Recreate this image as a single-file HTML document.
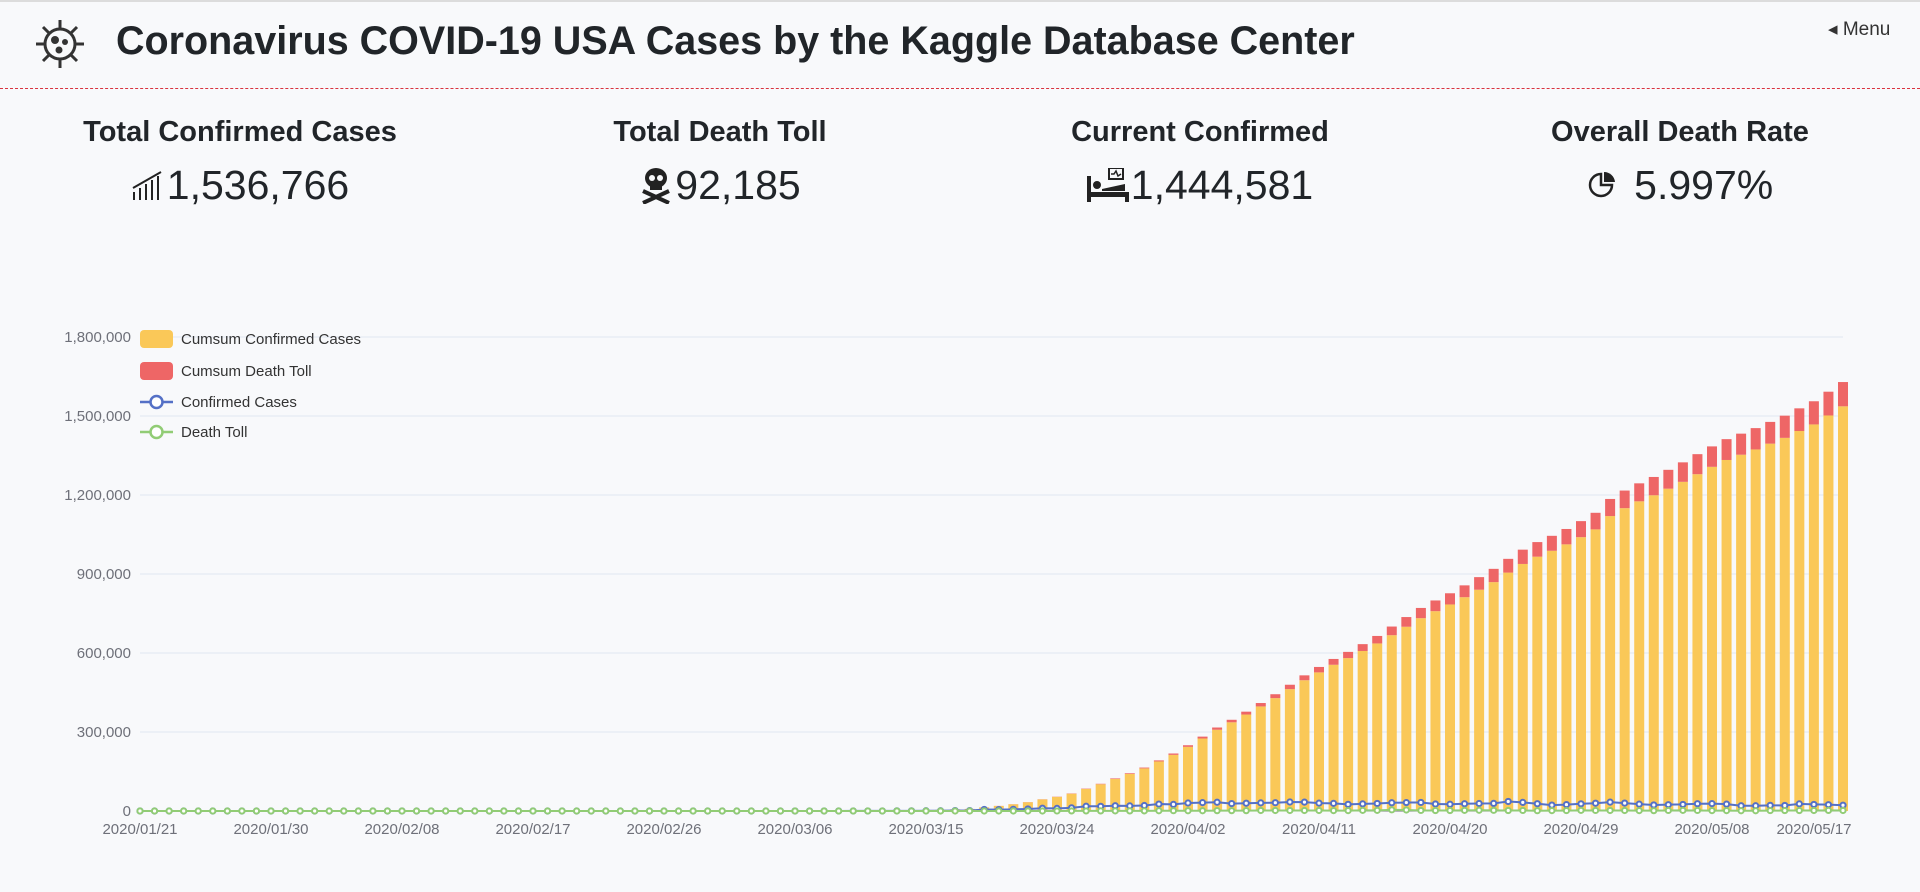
<!DOCTYPE html>
<html><head><meta charset="utf-8">
<style>
html,body{margin:0;padding:0;width:1920px;height:892px;overflow:hidden;background:#f8f9fb;font-family:"Liberation Sans",sans-serif;color:#212529}
#top{position:absolute;left:0;top:0;width:1920px;height:89px;border-top:2px solid #dcdcdc;border-bottom:1px dashed #d9343f;box-sizing:border-box}
#title{position:absolute;left:116px;top:17px;font-size:39.5px;font-weight:bold;white-space:nowrap;letter-spacing:0px}
#menu{position:absolute;left:1828px;top:16px;font-size:19px;color:#333}
.stat{position:absolute;top:112px;width:480px;text-align:center}
.stat .t{font-size:29px;line-height:40px;font-weight:bold}
.stat .v{font-size:41px;line-height:50px;margin-top:8px;display:flex;justify-content:center;align-items:center;gap:2px}
svg text{font-family:"Liberation Sans",sans-serif}
</style></head><body>
<div id="top">
 <svg style="position:absolute;left:34px;top:16px" width="52" height="52" viewBox="0 0 52 52">
  <g stroke="#333" stroke-width="3" fill="none">
   <circle cx="26" cy="26" r="15"/>
   <line x1="26" y1="2" x2="26" y2="11"/><line x1="26" y1="41" x2="26" y2="50"/>
   <line x1="2" y1="26" x2="11" y2="26"/><line x1="41" y1="26" x2="50" y2="26"/>
   <line x1="9" y1="9" x2="15" y2="15"/><line x1="37" y1="37" x2="43" y2="43"/>
   <line x1="43" y1="9" x2="37" y2="15"/><line x1="9" y1="43" x2="15" y2="37"/>
  </g>
  <circle cx="21" cy="22" r="4" fill="#333"/><circle cx="31" cy="24" r="3" fill="#333"/><circle cx="25" cy="32" r="3.5" fill="#333"/>
 </svg>
 <div id="title">Coronavirus COVID-19 USA Cases by the Kaggle Database Center</div>
 <div id="menu">&#9666; Menu</div>
</div>

<div class="stat" style="left:0">
 <div class="t">Total Confirmed Cases</div>
 <div class="v"><svg width="34" height="30" viewBox="0 0 34 30"><g stroke="#222" stroke-width="2"><line x1="3" y1="30" x2="3" y2="22"/><line x1="9" y1="30" x2="9" y2="18"/><line x1="15" y1="30" x2="15" y2="14"/><line x1="21" y1="30" x2="21" y2="10"/><line x1="27" y1="30" x2="27" y2="6"/><polyline points="2,18 30,2" fill="none"/></g></svg><span>1,536,766</span></div>
</div>
<div class="stat" style="left:480px">
 <div class="t">Total Death Toll</div>
 <div class="v"><svg width="34" height="38" viewBox="0 0 34 38"><ellipse cx="17" cy="12" rx="11" ry="10" fill="#222"/><rect x="11" y="18" width="12" height="6" fill="#222"/><circle cx="13" cy="12" r="3" fill="#f8f9fb"/><circle cx="21" cy="12" r="3" fill="#f8f9fb"/><g stroke="#222" stroke-width="4"><line x1="4" y1="25" x2="30" y2="37"/><line x1="30" y1="25" x2="4" y2="37"/></g></svg><span>92,185</span></div>
</div>
<div class="stat" style="left:960px">
 <div class="t">Current Confirmed</div>
 <div class="v"><svg width="42" height="34" viewBox="0 0 42 34"><rect x="0" y="8" width="4" height="26" fill="#222"/><rect x="0" y="24" width="42" height="5" fill="#222"/><rect x="38" y="24" width="4" height="10" fill="#222"/><circle cx="10" cy="17" r="4" fill="#222"/><path d="M15 21 L38 16 L38 23 L15 23Z" fill="#222"/><rect x="22" y="0" width="14" height="11" fill="none" stroke="#222" stroke-width="2"/><polyline points="24,6 27,6 29,3 31,8 34,6" fill="none" stroke="#222" stroke-width="1.5"/></svg><span>1,444,581</span></div>
</div>
<div class="stat" style="left:1440px">
 <div class="t">Overall Death Rate</div>
 <div class="v"><svg width="34" height="30" viewBox="0 0 34 30"><path d="M14 4 A11 11 0 1 0 25 15 L14 15Z" fill="none" stroke="#222" stroke-width="2.5"/><path d="M17 2 A11 11 0 0 1 28 12 L17 12Z" fill="#222"/></svg><span>&nbsp;5.997%</span></div>
</div>

<svg id="chart" style="position:absolute;left:0;top:0" width="1920" height="892"></svg>

<script>
const yTicks = [0,300000,600000,900000,1200000,1500000,1800000];
const cumConfirmed = [
1,1,2,2,5,5,5,5,5,6,7,
8,11,11,11,12,12,12,12,12,13,13,14,14,14,14,14,14,14,14,16,16,16,16,16,16,17,17,25,30,
75,98,118,149,217,262,402,518,583,959,1281,1663,2179,2727,3499,4632,6421,7783,13747,19273,25600,33276,43847,53740,65778,83836,101657,121465,140909,161831,188172,
213242,243622,275367,308650,336802,366317,397121,428654,462780,496535,526396,555313,580619,607670,636350,667592,699706,732197,758809,784326,811865,840351,869170,905358,938154,965785,988197,1012582,1039909,1069424,
1120000,1150000,1176000,1199000,1224000,1250000,1279000,1307000,1333000,1353000,1373000,1395000,1417000,1443000,1468000,1502000,1536766];
const cumDeaths = [
0,0,0,0,0,0,0,0,0,0,0,
0,0,0,0,0,0,0,0,0,0,0,0,0,0,0,0,0,0,0,0,0,0,0,0,0,0,0,0,1,
1,6,9,11,12,15,19,22,26,30,38,41,48,58,68,86,109,150,205,260,340,470,600,780,1030,1300,1700,2200,2600,3100,4000,
5100,6100,7100,8400,9600,10900,12900,14800,16700,18600,20600,22100,23600,26000,28400,32900,36800,38900,40700,42500,45000,47800,50400,52200,54300,55400,56800,58400,60900,63000,
65000,66900,68300,69500,71600,74000,76100,77600,79100,80000,81000,82600,84300,86100,88000,90300,92185];
const dailyConfirmed = [
1,0,1,0,3,0,0,0,0,1,1,
1,3,0,0,1,0,0,0,0,1,0,1,0,0,0,0,0,0,0,2,0,0,0,0,0,1,0,8,5,
20,25,24,34,63,98,116,106,163,290,307,329,553,587,843,983,1748,1525,5811,5421,6392,7783,10571,9893,12038,18058,17821,19808,19444,20922,26341,
25070,30380,31745,33283,28152,29515,30804,31533,34126,33755,29861,28917,25306,27051,28680,31242,32114,32491,26612,25517,27539,28486,28819,36188,32796,27631,22412,24385,27327,29515,
33700,30000,26000,23000,24000,25000,27700,28000,26000,20000,20000,21500,21000,27000,25000,24000,22000];
const dailyDeaths = [
0,0,0,0,0,0,0,0,0,0,0,
0,0,0,0,0,0,0,0,0,0,0,0,0,0,0,0,0,0,0,0,0,0,0,0,0,0,0,0,1,
0,5,3,2,1,3,4,3,4,4,8,3,7,10,10,18,23,41,55,55,80,130,130,180,250,270,400,500,400,500,900,
1100,1000,1000,1300,1200,1300,2000,1900,1900,1900,2000,1500,1500,2400,2400,4500,3900,2100,1800,1800,2500,2800,2600,1800,2100,1100,1400,1600,2500,2100,
2000,1900,1400,1200,2100,2400,2100,1500,1500,900,1000,1600,1700,1800,1900,2300,1900];
const categories = [];
(function(){const d=new Date(Date.UTC(2020,0,21));for(let i=0;i<cumConfirmed.length;i++){const x=new Date(d.getTime()+i*86400000);categories.push(x.getUTCFullYear()+'/'+String(x.getUTCMonth()+1).padStart(2,'0')+'/'+String(x.getUTCDate()).padStart(2,'0'));}})();

const NS='http://www.w3.org/2000/svg';
const svg=document.getElementById('chart');
const X0=140,X1=1843,Y0=811,Y1=337,YMAX=1800000;
const n=categories.length;
const xs=i=>X0+(X1-X0)*i/(n-1);
const ys=v=>Y0-(Y0-Y1)*v/YMAX;
function mk(tag,attrs,parent){const e=document.createElementNS(NS,tag);for(const k in attrs)e.setAttribute(k,attrs[k]);(parent||svg).appendChild(e);return e;}
const fmt=v=>v.toLocaleString('en-US');

const grid=mk('g',{});


yTicks.forEach(t=>{
 const l=mk('line',{x1:X0,x2:X1,y1:ys(t),y2:ys(t),stroke:t===0?'#6e7079':'#e0e6f1','stroke-width':1},grid);
 
 
 const tx=mk('text',{x:131,y:ys(t)+5,'text-anchor':'end','font-size':15,fill:'#6e7079'});
 tx.textContent=fmt(t);
 
 
});
for(let i=0;i<n;i+=9){
 const tx=mk('text',{x:Math.min(xs(i),1814),y:834,'text-anchor':'middle','font-size':15,fill:'#6e7079'});
 tx.textContent=categories[i];
 
 
}
const bw=10;
for(let i=0;i<n;i++){
 const yc=ys(cumConfirmed[i]),yd=ys(cumConfirmed[i]+cumDeaths[i]);
 const b=mk('rect',{x:xs(i)-bw/2,y:yc,width:bw,height:Y0-yc,fill:'#fac858'});
 
 
 const r=mk('rect',{x:xs(i)-bw/2,y:yd,width:bw,height:Math.max(0,yc-yd),fill:'#ee6666'});
 
 
}
function line(data,color,name){
 const g=mk('g',{});
 
 
 const pl=mk('polyline',{points:data.map((v,i)=>xs(i)+','+ys(v)).join(' '),fill:'none',stroke:color,'stroke-width':2},g);
 
 
 data.forEach((v,i)=>{
  const c=mk('circle',{cx:xs(i),cy:ys(v),r:2.6,fill:'#fff',stroke:color,'stroke-width':2},g);
  
  
 });
}
line(dailyConfirmed,'#5470c6','confirmed-cases-line');
line(dailyDeaths,'#91cc75','death-toll-line');

const legendItems=[['Cumsum Confirmed Cases','#fac858','bar'],['Cumsum Death Toll','#ee6666','bar'],['Confirmed Cases','#5470c6','line'],['Death Toll','#91cc75','line']];
const legendY=[339,371,402,432];
legendItems.forEach((it,k)=>{
 const g=mk('g',{});
 
 
 const y=legendY[k];
 if(it[2]==='bar'){mk('rect',{x:140,y:y-9,width:33,height:18,rx:4,fill:it[1]},g);}
 else{mk('line',{x1:140,x2:173,y1:y,y2:y,stroke:it[1],'stroke-width':2.5},g);mk('circle',{cx:156.5,cy:y,r:6,fill:'#fff',stroke:it[1],'stroke-width':2.5},g);}
 const t=mk('text',{x:181,y:y+5,'font-size':15,fill:'#333'},g);
 t.textContent=it[0];
});
</script>
</body></html>
